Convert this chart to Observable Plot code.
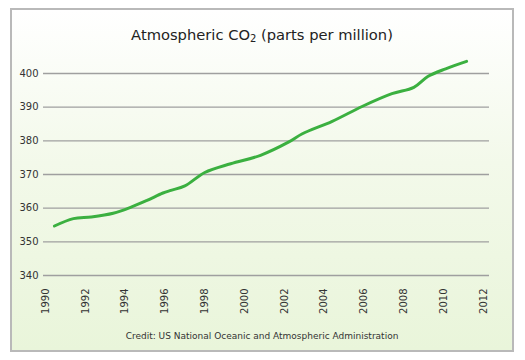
<!DOCTYPE html>
<html>
<head>
<meta charset="utf-8">
<script src="https://cdn.jsdelivr.net/npm/d3@7"></script>
<script src="https://cdn.jsdelivr.net/npm/@observablehq/plot@0.6"></script>
<style>
  html, body { margin: 0; padding: 0; background: #ffffff; width: 525px; height: 360px; overflow: hidden; }
  #panel {
    position: absolute; left: 10px; top: 8px; width: 504px; height: 344px;
    box-sizing: border-box; border: 2px solid #b9b9b9;
    background: linear-gradient(to bottom, #ffffff 0%, #f3f9ea 45%, #e9f5da 100%);
    font-family: "DejaVu Sans", sans-serif;
  }
  #title { position: absolute; left: 0; width: 100%; top: 16px; text-align: center; font-size: 14.7px; color: #222; }
  #title sub { font-size: 10px; vertical-align: -2px; }
  #chart { position: absolute; left: 0px; top: 40px; }
  #credit { position: absolute; left: 0; width: 100%; top: 321px; text-align: center; font-size: 9px; color: #333; }
</style>
</head>
<body>
<div id="panel">
  <div id="title">Atmospheric CO<sub>2</sub> (parts per million)</div>
  <div id="chart"></div>
  <div id="credit">Credit: US National Oceanic and Atmospheric Administration</div>
</div>
<script>
const years = [1990.45, 1991.4, 1992.3, 1993.4, 1994.3, 1995.1, 1995.9, 1996.3, 1997.0, 1998.0, 1999.3, 2000.8, 2002.2, 2002.9, 2004.4, 2005.9, 2007.4, 2008.5, 2009.2, 2010.1, 2011.15];
const co2   = [354.7, 356.9, 357.4, 358.5, 360.3, 362.3, 364.5, 365.3, 366.6, 370.6, 373.2, 375.7, 379.6, 382.1, 385.8, 390.2, 394.0, 395.9, 399.1, 401.4, 403.6];
const yTicks = [340, 350, 360, 370, 380, 390, 400];
const xTicks = [1990, 1992, 1994, 1996, 1998, 2000, 2002, 2004, 2006, 2008, 2010, 2012];

const data = years.map((y, i) => ({year: y, ppm: co2[i]}));

const chart = Plot.plot({
  width: 500,
  height: 270,
  marginLeft: 31,
  marginRight: 23,
  marginTop: 23,
  marginBottom: 45,
  style: {background: "transparent", fontFamily: "DejaVu Sans, sans-serif", fontSize: "10px", color: "#333"},
  x: {domain: [1989.9, 2012.3], label: null, axis: null},
  y: {domain: [340, 400], label: null, axis: null},
  marks: [
    Plot.ruleY(yTicks, {stroke: "#9f9f9f", strokeWidth: 1.3}),
    Plot.axisY(yTicks, {tickSize: 0, tickPadding: 5, label: null, fill: "#333", fontSize: 10}),
    Plot.axisX(xTicks, {tickSize: 0, tickRotate: -90, tickPadding: 13, tickFormat: d => String(d), label: null, fill: "#333", fontSize: 10}),
    Plot.line(data, {x: "year", y: "ppm", curve: "catmull-rom", stroke: "#3bb040", strokeWidth: 3, strokeLinecap: "round"})
  ]
});
document.getElementById("chart").appendChild(chart);
</script>
</body>
</html>
